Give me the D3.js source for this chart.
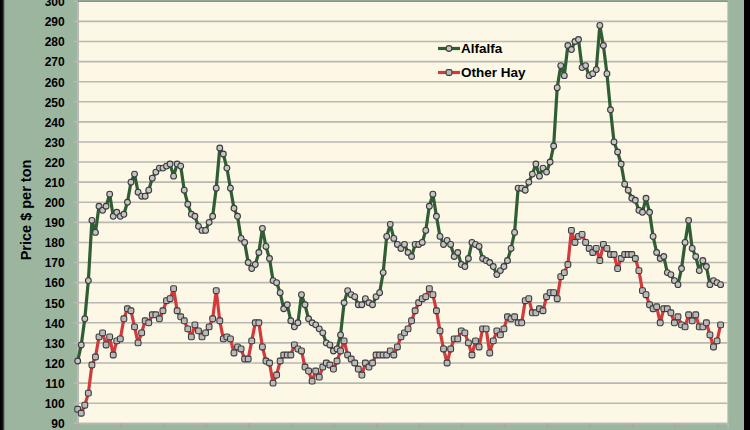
<!DOCTYPE html>
<html>
<head>
<meta charset="utf-8">
<script src="https://cdn.jsdelivr.net/npm/d3@7"></script>
<style>
  html, body { margin: 0; padding: 0; background: #9cb59f; }
  svg { display: block; }
  text { font-family: "Liberation Sans", Arial, sans-serif; font-weight: bold; fill: #000; }
</style>
</head>
<body>
<svg id="chart" width="750" height="430"></svg>
<script>
// ---- Data (monthly prices, $ per ton) ----
const seriesNames = ["Alfalfa", "Other Hay"];
const alfalfa = [
  121, 129, 142, 161, 191, 185, 198, 196, 198, 204,
  193, 195, 193, 194, 200, 210, 214, 205, 203, 203,
  206, 212, 215, 217, 217, 218, 219, 213, 219, 218,
  206, 199, 194, 193, 188, 186, 186, 190, 193, 207,
  227, 224, 217, 207, 197, 193, 182, 180, 170, 167,
  169, 175, 187, 178, 172, 161, 160, 155, 147, 149,
  141, 138, 140, 154, 149, 142, 140, 139, 137, 135,
  130, 129, 126, 127, 134, 150, 156, 154, 153, 149,
  149, 152, 150, 149, 153, 155, 165, 183, 189, 182,
  179, 177, 179, 175, 173, 179, 179, 180, 186, 198,
  204, 193, 183, 179, 181, 179, 173, 175, 169, 168,
  172, 180, 179, 178, 172, 171, 170, 168, 164, 166,
  168, 171, 177, 185, 207, 207, 206, 210, 214, 219,
  213, 217, 215, 220, 228, 257, 268, 263, 278, 276,
  280, 281, 267, 268, 263, 264, 266, 288, 278, 264,
  246, 230, 225, 219, 209, 206, 202, 201, 196, 195,
  202, 195, 183, 175, 172, 173, 165, 164, 161, 159,
  167, 180, 191, 177, 173, 166, 171, 168, 159, 161,
  160, 159
];
const otherHay = [
  97, 95, 99, 105, 119, 123, 133, 135, 129, 133,
  124, 131, 132, 142, 147, 146, 138, 130, 135, 141,
  140, 144, 144, 142, 146, 151, 152, 157, 146, 143,
  141, 137, 133, 139, 136, 133, 135, 138, 142, 156,
  141, 132, 133, 132, 125, 128, 127, 122, 122, 131,
  140, 140, 128, 121, 120, 110, 114, 121, 124, 124,
  124, 129, 127, 126, 118, 116, 111, 116, 113, 118,
  120, 119, 117, 121, 126, 131, 124, 122, 120, 117,
  114, 120, 118, 120, 124, 124, 124, 124, 126, 124,
  128, 133, 135, 137, 141, 146, 150, 152, 153, 157,
  154, 146, 136, 127, 120, 127, 132, 132, 136, 135,
  130, 124, 131, 128, 137, 137, 125, 131, 136, 134,
  137, 143, 142, 143, 140, 140, 151, 152, 145, 145,
  147, 146, 153, 155, 155, 152, 163, 165, 169, 186,
  180, 183, 184, 180, 177, 175, 177, 171, 179, 177,
  174, 174, 167, 172, 174, 174, 174, 172, 166, 156,
  154, 149, 147, 148, 140, 147, 147, 145, 140, 143,
  139, 138, 144, 141, 144, 138, 138, 140, 134, 128,
  131, 139
];
const categoryCount = 184;            // months on the category axis
const categories = d3.range(categoryCount);
const xTickEvery = 12;                // one tick per year
const yTicks = [90,100,110,120,130,140,150,160,170,180,190,200,210,220,230,240,250,260,270,280,290,300];
const yTitle = "Price $ per ton";

// ---- Layout ----
const W = 750, H = 430;
const plot = { left: 77.7, right: 727.7, top: 1.3, bottom: 423.3 };
const colors = { alfalfa: "#2f5d34", other: "#d23a3c", grid: "#b9b9b1", bg: "#9cb59f", plotBg: "#fdf8e5" };

const svg = d3.select("#chart");

// outer background and dark frame strips
svg.append("rect").attr("width", W).attr("height", H).attr("fill", colors.bg);
const defs = svg.append("defs");
const gl = defs.append("linearGradient").attr("id", "leftEdge").attr("x1", 0).attr("x2", 1);
gl.append("stop").attr("offset", "0%").attr("stop-color", "#000");
gl.append("stop").attr("offset", "55%").attr("stop-color", "#111");
gl.append("stop").attr("offset", "100%").attr("stop-color", colors.bg);
svg.append("rect").attr("x", 0).attr("y", 0).attr("width", 5).attr("height", H).attr("fill", "url(#leftEdge)");
svg.append("rect").attr("x", 744).attr("y", 0).attr("width", 6).attr("height", H).attr("fill", "#000");

const x = d3.scalePoint().domain(categories).range([plot.left, plot.right]);
const y = d3.scaleLinear().domain([90, 300]).range([plot.bottom, plot.top]);

// plot area
svg.append("rect")
  .attr("x", plot.left).attr("y", plot.top)
  .attr("width", plot.right - plot.left).attr("height", plot.bottom - plot.top)
  .attr("fill", colors.plotBg);

// gridlines
svg.append("g").selectAll("line").data(yTicks).join("line")
  .attr("x1", plot.left - 4).attr("x2", plot.right)
  .attr("y1", d => y(d)).attr("y2", d => y(d))
  .attr("stroke", colors.grid).attr("stroke-width", 1.6);

// y axis
const yAxis = svg.append("g")
  .attr("transform", `translate(${plot.left},0)`)
  .call(d3.axisLeft(y).tickValues(yTicks).tickSize(0).tickPadding(13));
yAxis.select(".domain").attr("stroke", colors.grid).attr("stroke-width", 1.6);
yAxis.selectAll("text").style("font-size", "12px").style("font-weight", "bold")
  .style("font-family", '"Liberation Sans", Arial, sans-serif').attr("fill", "#000").attr("dy", "0.36em");

// x axis (ticks only, no labels)
const xAxis = svg.append("g")
  .attr("transform", `translate(0,${plot.bottom})`)
  .call(d3.axisBottom(x).tickValues(categories.filter(d => d % xTickEvery === 0)).tickSize(5).tickFormat(""));
xAxis.select(".domain").attr("stroke", colors.grid).attr("stroke-width", 1.6);
xAxis.selectAll(".tick line").attr("stroke", "#a8a8a0").attr("stroke-width", 1.2);

// right border of plot
svg.append("line").attr("x1", plot.right).attr("x2", plot.right)
  .attr("y1", plot.top).attr("y2", plot.bottom).attr("stroke", "#c9c9c0").attr("stroke-width", 1);
// top border
svg.append("line").attr("x1", plot.left).attr("x2", plot.right)
  .attr("y1", plot.top).attr("y2", plot.top).attr("stroke", "#7f9a84").attr("stroke-width", 1.5);

// axis title
svg.append("text")
  .attr("transform", `translate(31,210) rotate(-90)`)
  .attr("text-anchor", "middle")
  .style("font-size", "14.5px")
  .text(yTitle);

// series
const line = d3.line().x((d, i) => x(i)).y(d => y(d));

function drawSeries(values, color, shape) {
  const g = svg.append("g");
  g.append("path").datum(values)
    .attr("fill", "none").attr("stroke", color).attr("stroke-width", 3.2)
    .attr("stroke-linejoin", "round").attr("d", line);
  if (shape === "circle") {
    g.selectAll("circle").data(values).join("circle")
      .attr("cx", (d, i) => x(i)).attr("cy", d => y(d)).attr("r", 2.9)
      .attr("fill", "#c4c4c4").attr("stroke", "#3b3b3b").attr("stroke-width", 1.1);
  } else {
    g.selectAll("rect").data(values).join("rect")
      .attr("x", (d, i) => x(i) - 2.9).attr("y", d => y(d) - 2.9)
      .attr("width", 5.8).attr("height", 5.8).attr("rx", 1.6)
      .attr("fill", "#b9b9b9").attr("stroke", "#3b3b3b").attr("stroke-width", 1.1);
  }
}
drawSeries(alfalfa, colors.alfalfa, "circle");
drawSeries(otherHay, colors.other, "square");

// legend
const legend = svg.append("g");
const legendItems = [
  { name: seriesNames[0], color: colors.alfalfa, shape: "circle", cy: 48.5 },
  { name: seriesNames[1], color: colors.other, shape: "square", cy: 72.5 }
];
legendItems.forEach(it => {
  legend.append("line").attr("x1", 438).attr("x2", 460).attr("y1", it.cy).attr("y2", it.cy)
    .attr("stroke", it.color).attr("stroke-width", 3.2);
  if (it.shape === "circle") {
    legend.append("circle").attr("cx", 449).attr("cy", it.cy).attr("r", 2.9)
      .attr("fill", "#c4c4c4").attr("stroke", "#3b3b3b").attr("stroke-width", 1.1);
  } else {
    legend.append("rect").attr("x", 449 - 2.9).attr("y", it.cy - 2.9).attr("width", 5.8).attr("height", 5.8).attr("rx", 1.6)
      .attr("fill", "#b9b9b9").attr("stroke", "#3b3b3b").attr("stroke-width", 1.1);
  }
  legend.append("text").attr("x", 461).attr("y", it.cy).attr("dy", "0.36em")
    .style("font-size", "13.5px").text(it.name);
});
</script>
</body>
</html>
